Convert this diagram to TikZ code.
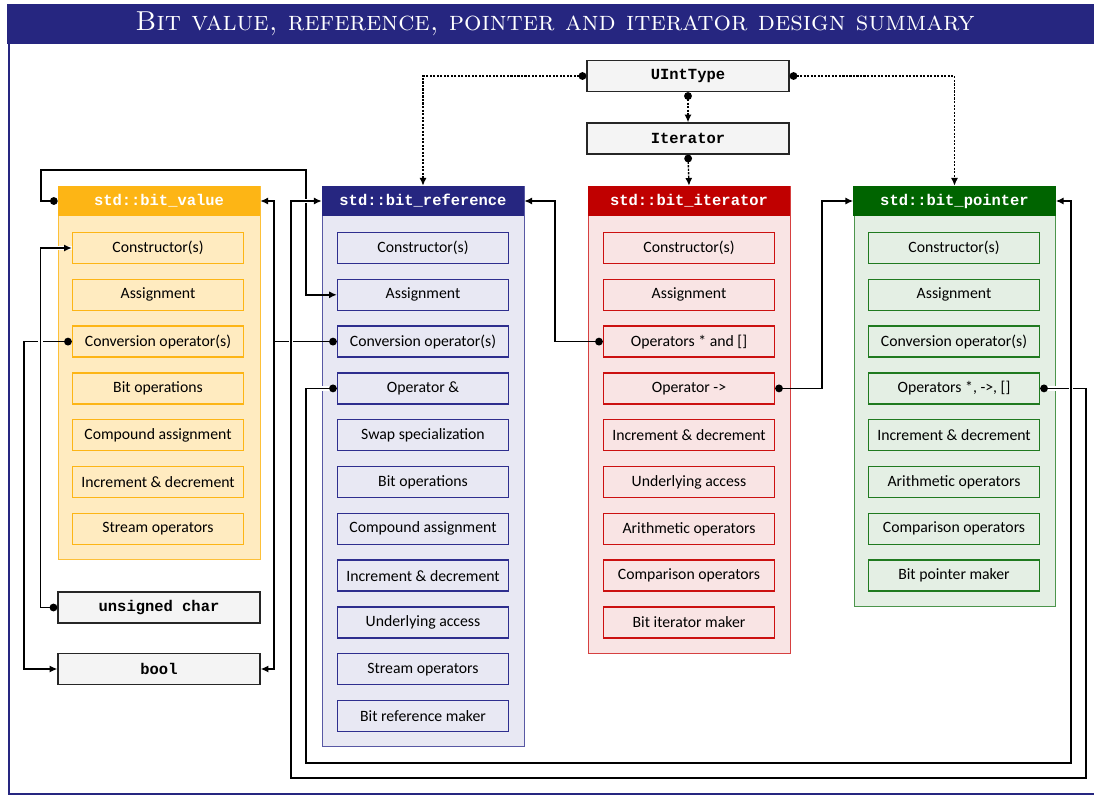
\documentclass[tikz,border=0pt]{standalone}
\usepackage{fontspec}
\newfontfamily\itemfont{Carlito}
\newfontfamily\codefont{Liberation Mono}
\usetikzlibrary{arrows.meta}

\definecolor{titleblue}{HTML}{262680}
\definecolor{valhd}{HTML}{FDB515}
\definecolor{valbg}{HTML}{FFEBC0}
\definecolor{refhd}{HTML}{262680}
\definecolor{refbg}{HTML}{E8E8F3}
\definecolor{refln}{HTML}{2E2E8E}
\definecolor{ithd}{HTML}{C00000}
\definecolor{itbg}{HTML}{F9E4E4}
\definecolor{itln}{HTML}{CC1010}
\definecolor{ptrhd}{HTML}{006400}
\definecolor{ptrbg}{HTML}{E4EFE4}
\definecolor{ptrln}{HTML}{1F7A1F}
\definecolor{typebg}{HTML}{F4F4F4}

\tikzset{
  head/.style={minimum width=5.05cm, minimum height=0.75cm, inner sep=0pt, text=white,
    font=\codefont\bfseries\fontsize{11}{12}\selectfont},
  item/.style={draw, line width=0.9pt, minimum width=4.275cm, minimum height=0.775cm,
    inner sep=0pt, font=\itemfont\fontsize{11.2}{13}\selectfont},
  typebox/.style={draw=black!85, fill=typebg, line width=0.9pt, minimum width=5.05cm,
    minimum height=0.775cm, inner sep=0pt, font=\codefont\bfseries\fontsize{11}{12}\selectfont},
  link/.style={line width=1pt, {Circle[length=5.5pt]}-{Latex[length=5.5pt,width=5pt]}},
  plain/.style={line width=1pt, -{Latex[length=5.5pt,width=5pt]}},
  tparam/.style={link, dash pattern=on 1.5pt off 1pt},
  halo/.style={preaction={draw,white,line width=3.5pt,-}},
}

\begin{document}
\begin{tikzpicture}[x=0.025cm, y=-0.025cm]
\useasboundingbox (0,0) rectangle (1094,796);
% frame and title
\draw[titleblue, line width=2pt] (9,30) rectangle (1130,794);
\fill[titleblue] (7,4) rectangle (1094,44);
\node[text=white, font=\fontsize{19.5}{22}\selectfont\scshape] (title) at (555,24)
  {Bit value, reference, pointer and iterator design summary};

% std::bit_value
\draw[valhd!85, fill=valbg, line width=0.7pt] (58,186) rectangle (260,559);
\node[head, fill=valhd] (valhead) at (159,201) {std::bit\_value};
\node[item, draw=valhd, fill=valbg] (valcons) at (158,248) {Constructor(s)};
\node[item, draw=valhd, fill=valbg] (valassign) at (158,294.8) {Assignment};
\node[item, draw=valhd, fill=valbg] (valconv) at (158,341.6) {Conversion operator(s)};
\node[item, draw=valhd, fill=valbg] (valbits) at (158,388.4) {Bit operations};
\node[item, draw=valhd, fill=valbg] (valcomp) at (158,435.2) {Compound assignment};
\node[item, draw=valhd, fill=valbg] (valincr) at (158,482) {Increment \& decrement};
\node[item, draw=valhd, fill=valbg] (valstream) at (158,528.8) {Stream operators};

% std::bit_reference
\draw[refln!80, fill=refbg, line width=0.7pt] (322,186) rectangle (524,746);
\node[head, fill=refhd] (refhead) at (423,201) {std::bit\_reference};
\node[item, draw=refln, fill=refbg] (refcons) at (423,248) {Constructor(s)};
\node[item, draw=refln, fill=refbg] (refassign) at (423,294.8) {Assignment};
\node[item, draw=refln, fill=refbg] (refconv) at (423,341.6) {Conversion operator(s)};
\node[item, draw=refln, fill=refbg] (refamp) at (423,388.4) {Operator \&};
\node[item, draw=refln, fill=refbg] (refswap) at (423,435.2) {Swap specialization};
\node[item, draw=refln, fill=refbg] (refbits) at (423,482) {Bit operations};
\node[item, draw=refln, fill=refbg] (refcomp) at (423,528.8) {Compound assignment};
\node[item, draw=refln, fill=refbg] (refincr) at (423,575.6) {Increment \& decrement};
\node[item, draw=refln, fill=refbg] (refaccess) at (423,622.4) {Underlying access};
\node[item, draw=refln, fill=refbg] (refstream) at (423,669.2) {Stream operators};
\node[item, draw=refln, fill=refbg] (refmaker) at (423,716) {Bit reference maker};

% std::bit_iterator
\draw[itln!80, fill=itbg, line width=0.7pt] (588,186) rectangle (790,653);
\node[head, fill=ithd] (ithead) at (689,201) {std::bit\_iterator};
\node[item, draw=itln, fill=itbg] (itcons) at (689,248) {Constructor(s)};
\node[item, draw=itln, fill=itbg] (itassign) at (689,294.8) {Assignment};
\node[item, draw=itln, fill=itbg] (itops) at (689,341.6) {Operators * and []};
\node[item, draw=itln, fill=itbg] (itarrow) at (689,388.4) {Operator ->};
\node[item, draw=itln, fill=itbg] (itincr) at (689,435.2) {Increment \& decrement};
\node[item, draw=itln, fill=itbg] (itaccess) at (689,482) {Underlying access};
\node[item, draw=itln, fill=itbg] (itarith) at (689,528.8) {Arithmetic operators};
\node[item, draw=itln, fill=itbg] (itcmp) at (689,575.6) {Comparison operators};
\node[item, draw=itln, fill=itbg] (itmaker) at (689,622.4) {Bit iterator maker};

% std::bit_pointer
\draw[ptrln!80, fill=ptrbg, line width=0.7pt] (854,186) rectangle (1055,606);
\node[head, fill=ptrhd] (ptrhead) at (954.5,201) {std::bit\_pointer};
\node[item, draw=ptrln, fill=ptrbg] (ptrcons) at (954,248) {Constructor(s)};
\node[item, draw=ptrln, fill=ptrbg] (ptrassign) at (954,294.8) {Assignment};
\node[item, draw=ptrln, fill=ptrbg] (ptrconv) at (954,341.6) {Conversion operator(s)};
\node[item, draw=ptrln, fill=ptrbg] (ptrops) at (954,388.4) {Operators *, ->, []};
\node[item, draw=ptrln, fill=ptrbg] (ptrincr) at (954,435.2) {Increment \& decrement};
\node[item, draw=ptrln, fill=ptrbg] (ptrarith) at (954,482) {Arithmetic operators};
\node[item, draw=ptrln, fill=ptrbg] (ptrcmp) at (954,528.8) {Comparison operators};
\node[item, draw=ptrln, fill=ptrbg] (ptrmaker) at (954,575.6) {Bit pointer maker};

% underlying types
\node[typebox] (uint) at (688,76) {UIntType};
\node[typebox] (iter) at (688,138.5) {Iterator};
\node[typebox] (uchar) at (159,607.5) {unsigned char};
\node[typebox] (bool) at (159,669) {bool};

% connections
\draw[link] (valconv.west) -- ++(-48,0) |- (bool.west);
\draw[link, halo] (uchar.west) -- ++(-17,0) |- (valcons.west);
\draw[link] (refconv.west) -- ++(-63,0) coordinate (split) |- (valhead.east);
\draw[plain] (split) |- (bool.east);
\draw[link] (valhead.west) -| (41,170) -- (306,170) |- (refassign.west);
\draw[link, halo] (ptrops.east) -| (1086,778) -- (291,778) |- (refhead.west);
\draw[link, halo] (refamp.west) -| (306,763) -- (1071,763) |- (ptrhead.east);
\draw[link] (itops.west) -- ++(-48,0) |- (refhead.east);
\draw[link] (itarrow.east) -- ++(47,0) |- (ptrhead.west);
% template parameters
\draw[tparam] (uint.west) -| (refhead.north);
\draw[tparam] (uint.east) -| (ptrhead.north);
\draw[tparam] (uint.south) -- (iter.north);
\draw[tparam] (iter.south) -- (ithead.north);
\end{tikzpicture}
\end{document}
